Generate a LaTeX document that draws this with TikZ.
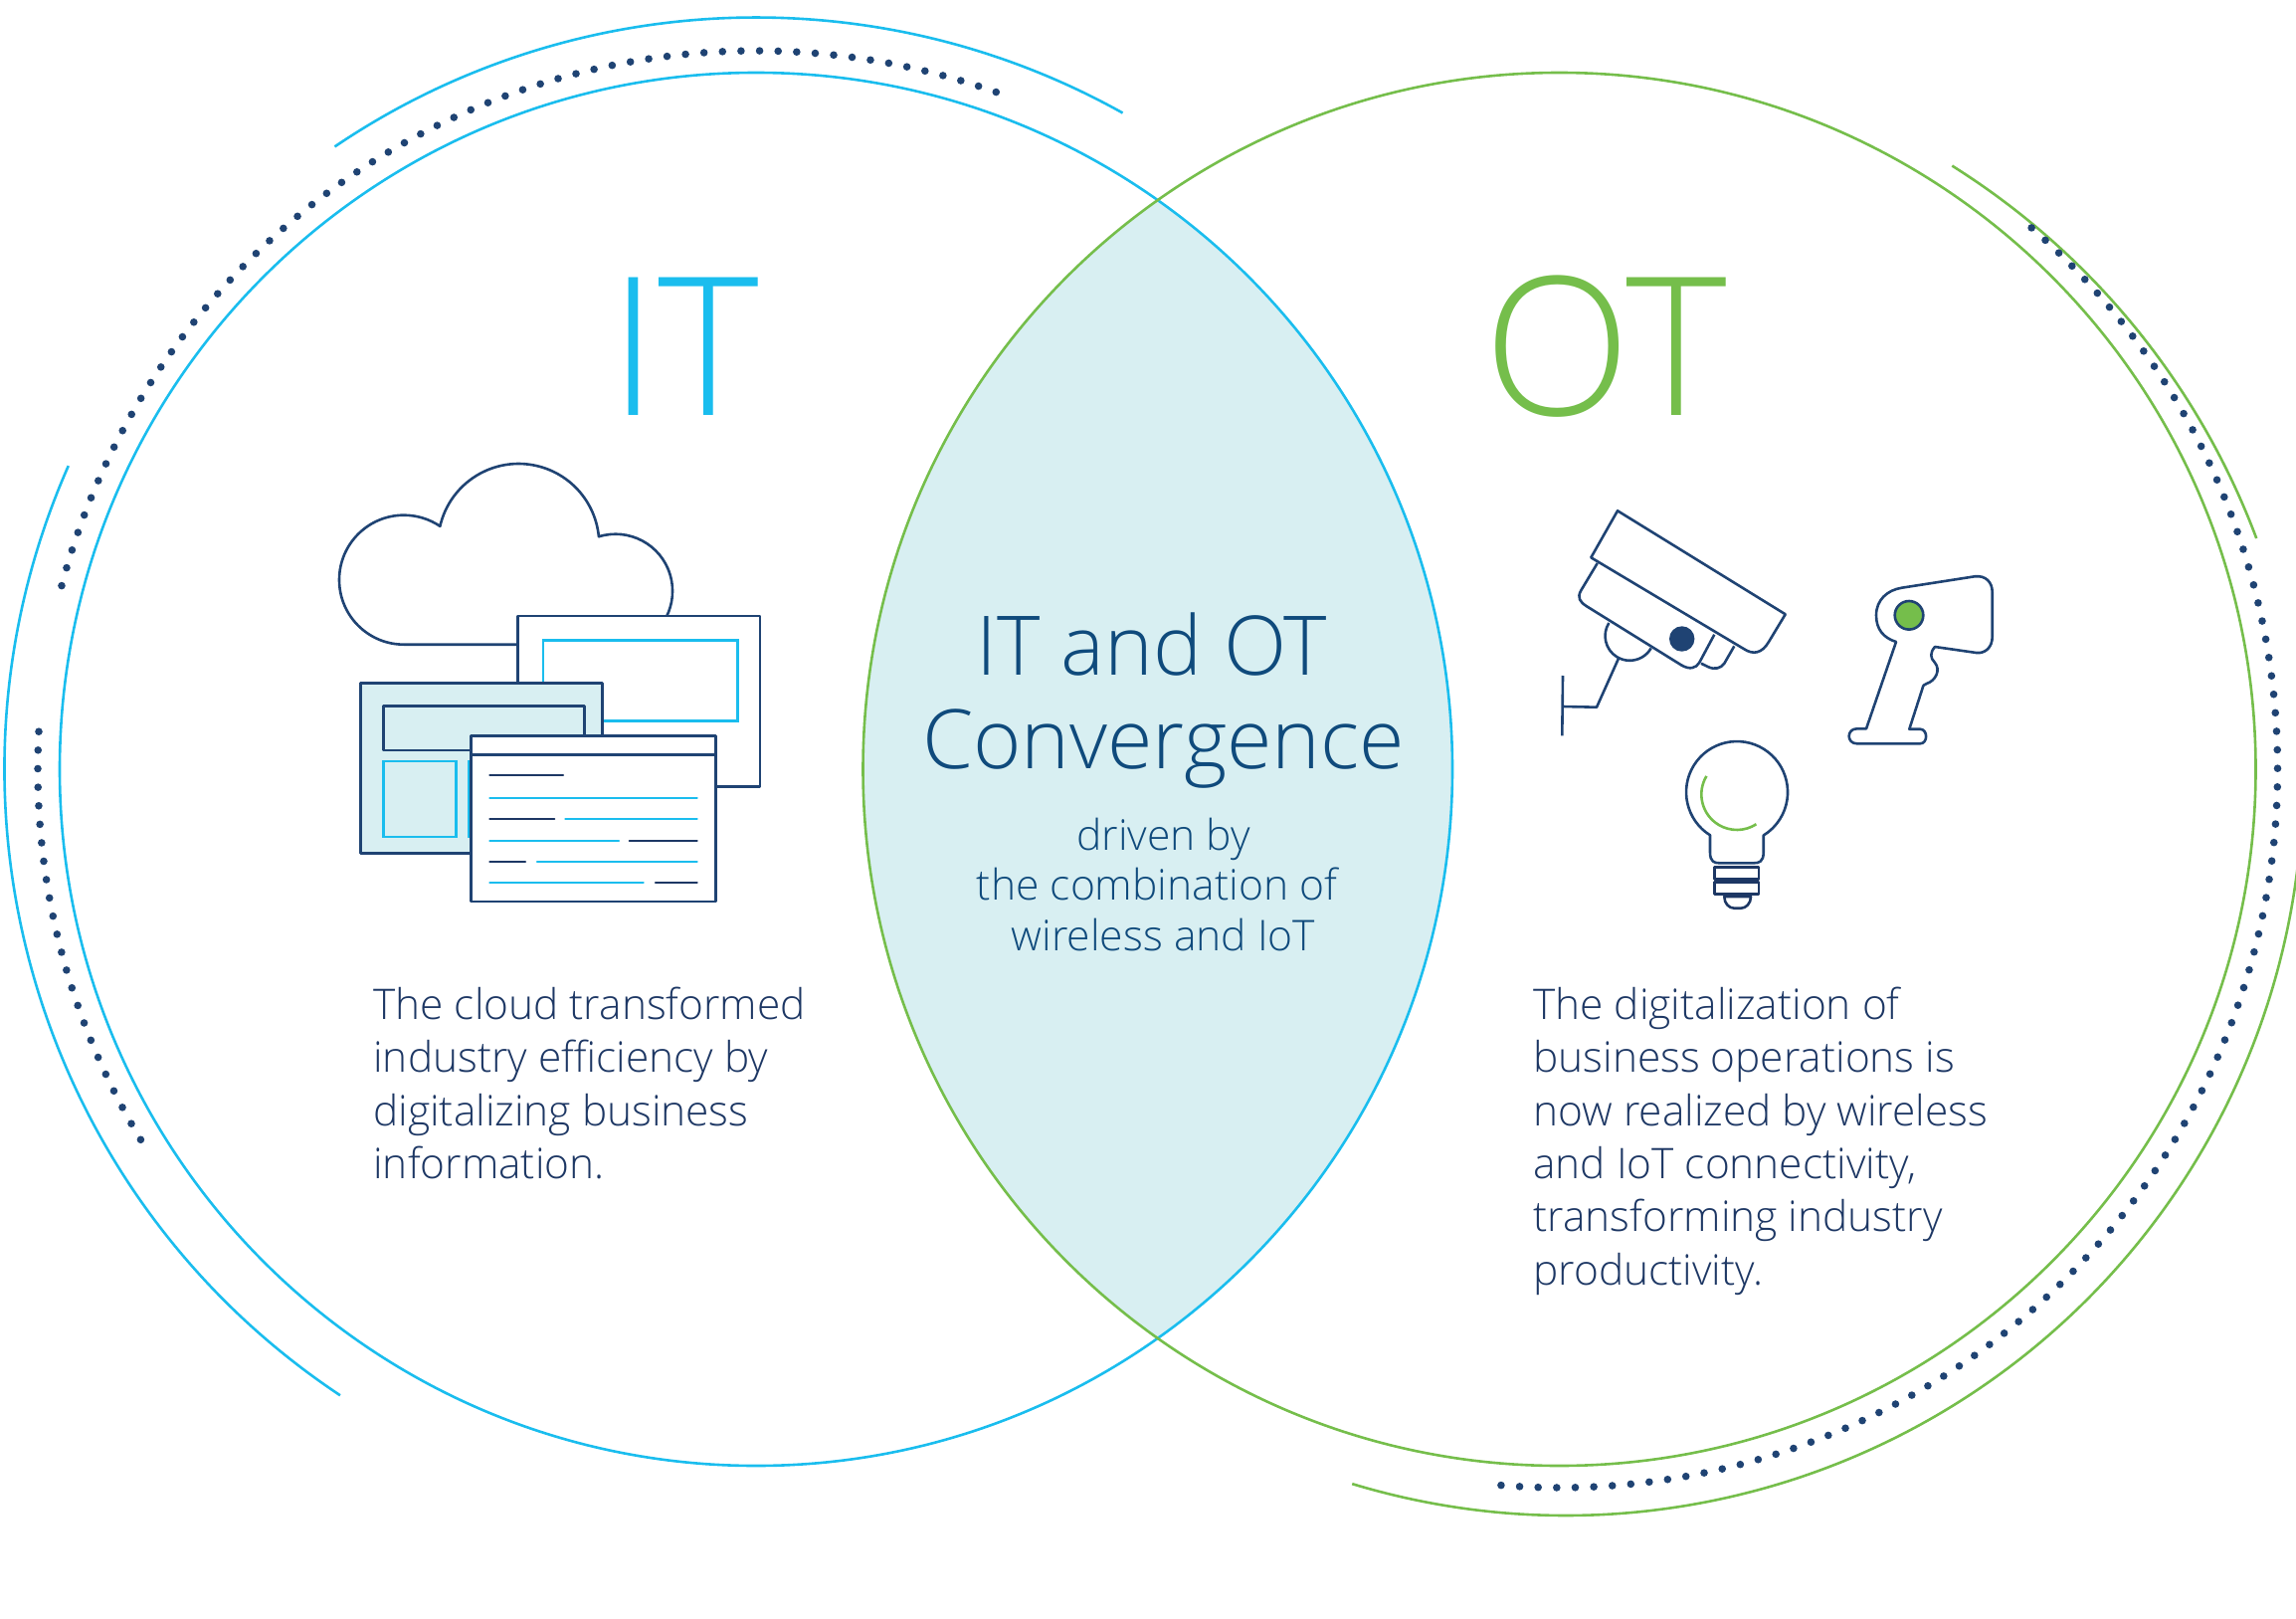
\documentclass[tikz,border=0pt]{standalone}
\usepackage{fontspec}
\setmainfont{Open Sans Light}
\definecolor{itblue}{HTML}{1ABDEE}
\definecolor{otgreen}{HTML}{75BE4B}
\definecolor{navy}{HTML}{1F4373}
\definecolor{inknavy}{HTML}{1D3764}
\definecolor{lensblue}{HTML}{D8EFF2}
\definecolor{lensink}{HTML}{0F4A7C}
\newcommand*{\bodyfont}{\fontsize{21.2}{26.7}\selectfont\color{inknavy}}
\newcommand{\ringarc}[6]{%
% centre x, centre y, radius, start angle, end angle, options
  \draw[#6] (#1,#2) ++(#4:#3) arc[start angle=#4, end angle=#5, radius=#3];
}
\tikzset{
  ringline/.style={line width=1.3pt},
  dotline/.style={navy, line width=3.8pt, line cap=round, dash pattern=on 0pt off 9.325pt},
  icon/.style={navy, line width=1.3pt, line join=round},
  thinstroke/.style={line width=1.3pt},
  textstroke/.style={line width=1.1pt, line cap=round},
  bodytext/.style={anchor=north west, inner sep=0pt, align=left, font=\bodyfont},
  bigtext/.style={anchor=base, inner sep=0pt, font=\fontsize{97}{97}\selectfont},
  titletext/.style={anchor=base, inner sep=0pt, color=lensink, font=\fontsize{41.3}{41.3}\selectfont},
  subtext/.style={anchor=base, inner sep=0pt, color=lensink, font=\fontsize{21.3}{21.3}\selectfont},
}
\begin{document}
\begin{tikzpicture}[x=0.5pt,y=-0.5pt]
  \useasboundingbox (0,0) rectangle (2308,1627);
  % overlap first, the two rings go over it
  \begin{scope}
    \clip (760,773) circle (700);
    \fill[lensblue] (1567.5,773) circle (700);
  \end{scope}
  \draw[ringline,itblue] (760,773) circle (700);
  \draw[ringline,otgreen] (1567.5,773) circle (700);
  \ringarc{760}{773}{755.5}{235.9}{299.2}{ringline,itblue}
  \ringarc{760}{773}{755.5}{203.8}{123.6}{ringline,itblue}
  \ringarc{1560.6}{807}{756}{-57.9}{-20.6}{ringline,otgreen}
  \ringarc{1574}{782}{741}{106.85}{7}{ringline,otgreen}
  \ringarc{760}{773}{722}{194.8}{289.7}{dotline}
  \ringarc{760}{773}{722}{183}{148.7}{dotline}
  \ringarc{1567.5}{773}{722}{-48.9}{94.7}{dotline}

  \node[bigtext,itblue] (itword) at (688,417.7) {IT};
  \node[bigtext,otgreen] (otword) at (1614,417.7) {OT};

  % cloud and windows
  \draw[icon] (522,647.7) -- (406,647.7) arc[start angle=90, end angle=304, radius=65]
    arc[start angle=193, end angle=354.5, radius=81]
    arc[start angle=252.9, end angle=387.6, radius=57.3];
  \draw[icon,fill=white] (520.7,619) rectangle (764,790.7);
  \draw[thinstroke,itblue] (546,643.3) rectangle (741.7,724.3);
  \draw[icon,fill=lensblue] (362.3,686.7) rectangle (605.7,857.7);
  \draw[icon] (385.7,709.3) rectangle (587.3,754);
  \draw[thinstroke,itblue] (385.3,765) rectangle (458.3,841);
  \draw[thinstroke,itblue] (471,765) rectangle (544,841);
  \draw[icon,fill=white] (473.3,739.3) rectangle (719.3,906);
  \draw[icon] (473.3,758.3) -- (719.3,758.3);
  \foreach \ya/\xa/\xb in {779.3/492.3/566,823.3/492.3/557.3,844.7/632.7/700.7,866/492.3/528,887.3/659/700.7} {
    \draw[textstroke,inknavy] (\xa,\ya) -- (\xb,\ya);
  }
  \foreach \ya/\xa/\xb in {801.7/492.3/700.7,823.3/568.3/700.7,844.7/492.3/622,866/540/700.7,887.3/492.3/646.7} {
    \draw[textstroke,itblue] (\xa,\ya) -- (\xb,\ya);
  }

  % camera
  \draw[icon] (1599.3,560.3) -- (1626,513.3) -- (1794.7,617.3) -- (1778,645)
    .. controls (1771,657) and (1762,658) .. (1753.3,652.3) -- cycle;
  \draw[icon] (1605.7,566) -- (1589.3,593.3) .. controls (1585,600.7) and (1588.3,605) .. (1595,609.3)
    -- (1690,668.3) .. controls (1698.3,673.3) and (1705,671.7) .. (1708.3,665.7) -- (1723.3,637.7);
  \draw[icon] (1710,666.7) -- (1716.7,670) .. controls (1723.3,673.3) and (1730,671.7) .. (1733.3,666.7) -- (1743.3,649.3);
  \draw[icon] (1617.3,626) arc[start angle=212, end angle=30, radius=24.7];
  \draw[icon] (1627.3,661) -- (1605,710.7) -- (1571,710);
  \draw[icon] (1571,679) -- (1570.3,739.3);
  \fill[navy] (1690.7,642) circle (12.7);

  % scanner
  \draw[icon] (1906,645) .. controls (1893,641) and (1886,632) .. (1886,618.3)
    .. controls (1886,603) and (1897,593) .. (1911.7,590.7) -- (1985,579.3)
    .. controls (1996,578) and (2002.7,585) .. (2002.7,595) -- (2002.7,640)
    .. controls (2002.7,650) and (1996,657) .. (1986.7,656) -- (1945,650)
    .. controls (1940,656) and (1940,661) .. (1945,666)
    .. controls (1951,673) and (1946,684) .. (1936.7,687) .. controls (1934,688) and (1933.3,689.3) .. (1933.3,689.3)
    -- (1919.3,732.7) -- (1930,732.7) .. controls (1938,732.7) and (1938.3,747.3) .. (1930,747.3)
    -- (1866.7,747.3) .. controls (1856,747.3) and (1856,732.3) .. (1866.7,732.3) -- (1876,732.3) -- cycle;
  \draw[icon,fill=otgreen] (1919,618.3) circle (14.3);

  % bulb
  \draw[icon] (1719,839.3) arc[start angle=122, end angle=418.4, radius=51]
    -- (1772.7,856.7) .. controls (1772.7,866) and (1768,867.3) .. (1763.3,867.3)
    -- (1728.3,867.3) .. controls (1723.3,867.3) and (1719,866) .. (1719,856.7) -- cycle;
  \draw[thinstroke,otgreen] (1715.4,779.9) arc[start angle=211, end angle=57, radius=35.7];
  \draw[icon,inknavy] (1723.7,871.3) rectangle (1768,883.3);
  \draw[icon,inknavy] (1723.7,886.7) rectangle (1768,898.7);
  \draw[icon,inknavy] (1733.3,901) .. controls (1733.3,908) and (1738,912.7) .. (1743.3,912.7)
    -- (1750,912.7) .. controls (1755,912.7) and (1760,908) .. (1760,901) -- cycle;

  % middle
  \node[titletext] (ottitle) at (1157.7,678.7) {IT and OT};
  \node[titletext] (convtitle) at (1169.5,772) {Convergence};
  \node[subtext] (drivenline) at (1169.5,854) {driven by};
  \node[subtext] (combline) at (1163,904.5) {the combination of};
  \node[subtext] (wirelessline) at (1169.5,955) {wireless and IoT};

  \node[bodytext] (itbody) at (375,991.5) {The cloud transformed\\industry efficiency by\\digitalizing business\\information.};
  \node[bodytext] (otbody) at (1541,991.5) {The digitalization of\\business operations is\\now realized by wireless\\and IoT connectivity,\\transforming industry\\productivity.};
\end{tikzpicture}
\end{document}
